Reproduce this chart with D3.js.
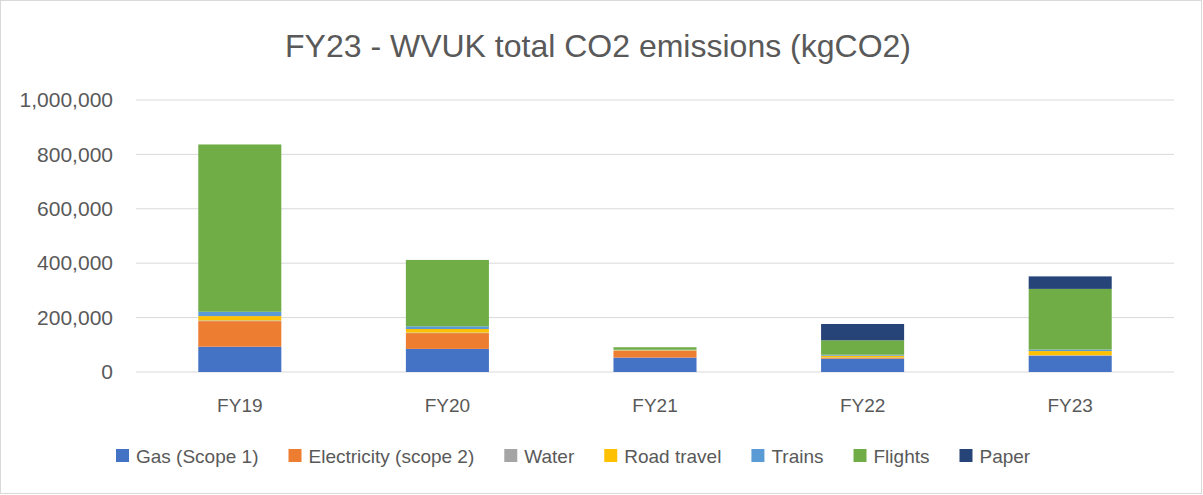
<!DOCTYPE html>
<html>
<head>
<meta charset="utf-8">
<script src="https://cdn.jsdelivr.net/npm/d3@7"></script>
<style>
  body { margin: 0; background: #fff; }
  text { font-family: "Liberation Sans", Arial, sans-serif; fill: #595959; }
</style>
</head>
<body>
<svg width="1203" height="495"></svg>
<script>
const years = ['FY19', 'FY20', 'FY21', 'FY22', 'FY23']
const seriesNames = ['Gas (Scope 1)', 'Electricity (scope 2)', 'Water', 'Road travel', 'Trains', 'Flights', 'Paper']
const seriesColors = ['#4472C4', '#ED7D31', '#A5A5A5', '#FFC000', '#5B9BD5', '#70AD47', '#264478']
const gas = [93000, 85000, 53000, 49000, 59000]
const electricity = [94000, 58000, 25000, 2500, 1000]
const water = [2500, 2000, 1000, 2000, 2000]
const roadTravel = [16000, 13000, 1500, 6500, 15000]
const trains = [16000, 10000, 1500, 3500, 5500]
const flights = [615000, 244000, 9000, 53000, 223000]
const paper = [0, 0, 0, 60000, 46000]
const yTicks = [0, 200000, 400000, 600000, 800000, 1000000]
const chartTitle = 'FY23 - WVUK total CO2 emissions (kgCO2)'

const allSeries = [gas, electricity, water, roadTravel, trains, flights, paper]
const table = years.map((y, i) => {
    const row = { year: y }
    seriesNames.forEach((s, j) => { row[s] = allSeries[j][i] })
    return row
})

const svg = d3.select('svg')
const margin = { top: 100, right: 29, bottom: 123, left: 136 },
    width = 1203 - margin.left - margin.right,
    height = 495 - margin.top - margin.bottom

// outer border
svg.append('rect')
    .attr('x', 0.5).attr('y', 0.5)
    .attr('width', 1201).attr('height', 493)
    .attr('fill', '#fff')
    .attr('stroke', '#D9D9D9')

const chart = svg.append('g')
    .attr('transform', `translate(${margin.left},${margin.top})`)

const x = d3.scaleBand().domain(years).range([0, width])
const y = d3.scaleLinear().domain([0, 1000000]).range([height, 0])
const barWidth = x.bandwidth() * 0.4

// gridlines
chart.append('g')
    .selectAll('line')
    .data(yTicks)
    .enter().append('line')
    .attr('x1', 0).attr('x2', width)
    .attr('y1', d => y(d)).attr('y2', d => y(d))
    .attr('stroke', '#D9D9D9')
    .attr('stroke-width', 1)

// y axis labels
const yAxis = d3.axisLeft(y).tickValues(yTicks).tickFormat(d3.format(',')).tickSize(0).tickPadding(23)
chart.append('g')
    .call(yAxis)
    .call(g => g.select('.domain').remove())
    .selectAll('text')
    .style('font-size', '21px')
    .attr('fill', '#595959')

// x axis labels
const xAxis = d3.axisBottom(x).tickSize(0).tickPadding(0)
chart.append('g')
    .attr('transform', `translate(0,${height})`)
    .call(xAxis)
    .call(g => g.select('.domain').remove())
    .selectAll('text')
    .attr('dy', null)
    .attr('y', 40)
    .style('font-size', '19px')
    .attr('fill', '#595959')

// stacked bars
const stack = d3.stack().keys(seriesNames)(table)
chart.append('g')
    .selectAll('g')
    .data(stack)
    .enter().append('g')
    .attr('fill', (d, i) => seriesColors[i])
    .selectAll('rect')
    .data(d => d)
    .enter().append('rect')
    .attr('x', d => x(d.data.year) + (x.bandwidth() - barWidth) / 2)
    .attr('width', barWidth)
    .attr('y', d => y(d[1]))
    .attr('height', d => y(d[0]) - y(d[1]))

// title
svg.append('text')
    .text(chartTitle)
    .attr('x', 598)
    .attr('y', 57)
    .attr('text-anchor', 'middle')
    .style('font-size', '32px')

// legend
const legend = svg.append('g').attr('transform', 'translate(116,449)')
let lx = 0
seriesNames.forEach((s, i) => {
    const item = legend.append('g').attr('transform', `translate(${lx},0)`)
    item.append('rect')
        .attr('width', 13).attr('height', 13)
        .attr('fill', seriesColors[i])
    const t = item.append('text')
        .text(s)
        .attr('x', 20)
        .attr('y', 14)
        .style('font-size', '19px')
    lx += 20 + t.node().getComputedTextLength() + 30
})
</script>
</body>
</html>
